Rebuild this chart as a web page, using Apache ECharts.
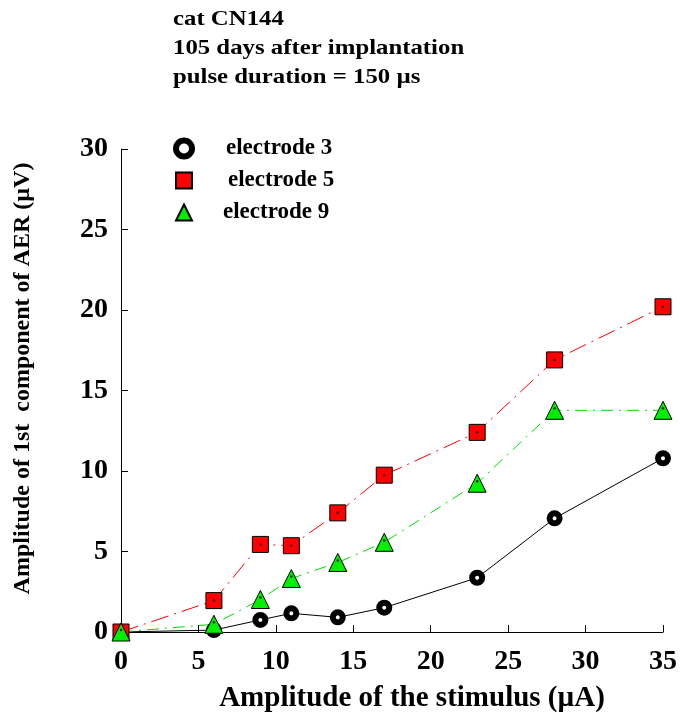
<!DOCTYPE html>
<html><head><meta charset="utf-8">
<script src="https://cdn.jsdelivr.net/npm/echarts@6/dist/echarts.min.js"></script>
<style>html,body{margin:0;padding:0;background:#fff}#c{width:680px;height:721px}</style>
</head><body><div id="c"></div>
<script>
const stimulus = [0, 6, 9, 11, 14, 17, 23, 28, 35];
const electrode3 = [0, 0.12, 0.75, 1.16, 0.91, 1.51, 3.37, 7.06, 10.79];
const electrode5 = [0, 1.95, 5.44, 5.36, 7.40, 9.74, 12.4, 16.9, 20.2];
const electrode9 = [0, 0.48, 2.02, 3.32, 4.32, 5.57, 9.24, 13.77, 13.77];
const xTicks = ['0','5','10','15','20','25','30','35'];
const yTicks = ['0','5','10','15','20','25','30'];
const titleLines = ['cat CN144', '105 days after implantation', 'pulse duration = 150 µs'];

const F = 'Liberation Serif';
const pair = arr => stimulus.map((x, i) => [x, arr[i]]);

const chart = echarts.init(document.getElementById('c'));
chart.setOption({
  animation: false,
  backgroundColor: '#fff',
  graphic: titleLines.map((t, i) => ({
    type: 'text', x: 173, y: 9 + i * 28.8, scaleX: 1.18, scaleY: 1,
    style: { text: t, fill: '#000', font: 'bold 21px "Liberation Serif"', textVerticalAlign: 'top' }
  })),
  legend: {
    orient: 'vertical', left: 168, top: 132, itemGap: 9, itemWidth: 16, itemHeight: 16,
    textStyle: { fontFamily: F, fontWeight: 'bold', fontSize: 23, color: '#000', padding: [0, 0, 0, 29] },
    data: [
      { name: 'electrode 3', icon: 'circle', itemStyle: { color: '#fff', borderColor: '#000', borderWidth: 6 } },
      { name: 'electrode 5', icon: 'rect', textStyle: { padding: [0, 0, 0, 31] } },
      { name: 'electrode 9', icon: 'triangle', textStyle: { padding: [0, 0, 0, 26] } }
    ]
  },
  grid: { left: 121, right: 13, top: 149, bottom: 89, containLabel: false },
  xAxis: {
    type: 'value', min: 0, max: 35, interval: 5,
    name: 'Amplitude of the stimulus (µA)', nameLocation: 'middle', nameGap: 52,
    nameTextStyle: { fontFamily: F, fontWeight: 'bold', fontSize: 29, color: '#000', padding: [0, 0, 0, 40] },
    axisLine: { show: true, lineStyle: { color: '#000', width: 1 } },
    axisTick: { show: true, inside: true, length: 7, lineStyle: { color: '#000' } },
    axisLabel: { margin: 16, fontFamily: F, fontWeight: 'bold', fontSize: 28, color: '#000',
      formatter: v => xTicks[Math.round(v / 5)] },
    splitLine: { show: false }
  },
  yAxis: {
    type: 'value', min: 0, max: 30, interval: 5,
    name: 'Amplitude of 1st  component of AER (µV)', nameLocation: 'middle', nameGap: 86,
    nameTextStyle: { fontFamily: F, fontWeight: 'bold', fontSize: 24, color: '#000', padding: [0, 0, 0, 24] },
    axisLine: { show: true, lineStyle: { color: '#000', width: 1 } },
    axisTick: { show: true, inside: true, length: 7, lineStyle: { color: '#000' } },
    axisLabel: { margin: 13, fontFamily: F, fontWeight: 'bold', fontSize: 28, color: '#000',
      formatter: v => yTicks[Math.round(v / 5)] },
    splitLine: { show: false }
  },
  series: [
    {
      name: 'electrode 3', type: 'line', data: pair(electrode3), clip: false,
      symbol: 'circle', symbolSize: 10,
      itemStyle: { color: '#fff', borderColor: '#000', borderWidth: 6 },
      lineStyle: { color: '#000', width: 1, type: 'solid' }
    },
    {
      name: 'electrode 5', type: 'line', data: pair(electrode5), clip: false,
      symbol: 'rect', symbolSize: 16,
      itemStyle: { color: '#ff0000', borderColor: '#000', borderWidth: 1 },
      lineStyle: { color: '#ff0000', width: 1, type: [18, 6, 2, 6] }
    },
    {
      name: 'electrode 9', type: 'line', data: pair(electrode9), clip: false,
      symbol: 'triangle', symbolSize: 18,
      itemStyle: { color: '#00ee00', borderColor: '#000', borderWidth: 1 },
      lineStyle: { color: '#00dd00', width: 1, type: [12, 6, 2, 6] }
    },
    {
      type: 'scatter', silent: true, data: pair(electrode5).slice(1), symbol: 'circle', symbolSize: 2.5,
      itemStyle: { color: '#000' }, z: 5
    },
    {
      type: 'scatter', silent: true, data: pair(electrode9).map(p => [p[0], p[1] + 0.12]), symbol: 'circle', symbolSize: 2.5,
      itemStyle: { color: '#000' }, z: 5
    }
  ]
});
</script>
</body></html>
